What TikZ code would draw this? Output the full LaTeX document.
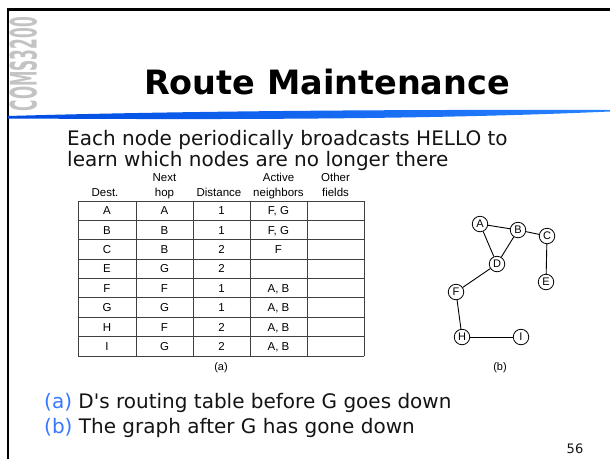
\documentclass[tikz,border=0pt]{standalone}
\usepackage{fontspec}
\setmainfont{DejaVu Sans}
\newfontfamily\dv{DejaVu Sans}
\newfontfamily\helv{Liberation Sans}
\definecolor{capblue}{RGB}{55,120,255}
\definecolor{swooshA}{RGB}{0,75,225}
\definecolor{swooshB}{RGB}{40,130,255}
\definecolor{txt}{RGB}{20,20,20}
\definecolor{logogray}{RGB}{195,195,195}
\tikzset{
  bodytext/.style={anchor=base west, inner sep=0, text=txt, font=\dv\fontsize{20}{24}\selectfont},
  hdr/.style={anchor=base, inner sep=0, font=\helv\fontsize{11.5}{13}\selectfont},
  cell/.style={anchor=base, inner sep=0, font=\helv\fontsize{11.5}{13}\selectfont},
  tabline/.style={line width=0.8pt, draw=black!75},
  gnode/.style={circle, draw, line width=0.8pt, fill=white, minimum size=15.5pt, inner sep=0, font=\helv\fontsize{11}{12}\selectfont},
  gedge/.style={line width=0.9pt},
  caption/.style={anchor=center, inner sep=0, font=\helv\fontsize{11}{12}\selectfont}
}
\begin{document}
\begin{tikzpicture}[x=1pt,y=-1pt]
\useasboundingbox (0,0) rectangle (610,459);
\fill[white] (0,0) rectangle (610,459);
% frame
\draw[line width=2.4pt] (7.8,459) -- (7.8,9.5) -- (610,9.5);
% logo
\node[rotate=90, text=logogray, inner sep=0] (logo) at (23.5,64) {\resizebox{94pt}{27pt}{\dv\bfseries COMS3200}};
% swoosh
\shade[left color=swooshA, right color=swooshB] (8,116) .. controls (200,110.5) and (420,109.5) .. (610,110) -- (610,111.5) .. controls (420,120) and (200,119.5) .. (8,118.5) -- cycle;
% title
\node[anchor=base, inner sep=0, text=black, font=\dv\bfseries\fontsize{33.5}{40}\selectfont] (title) at (327,94) {Route Maintenance};
% body
\node[bodytext] (l1) at (67,145) {Each node periodically broadcasts HELLO to};
\node[bodytext] (l2) at (67,166) {learn which nodes are no longer there};
% table headers
\node[hdr] (h2a) at (164.5,181) {Next};
\node[hdr] (h4a) at (278.5,181) {Active};
\node[hdr] (h5a) at (335.5,181) {Other};
\node[hdr] (h1) at (105,196) {Dest.};
\node[hdr] (h2) at (164.5,196) {hop};
\node[hdr] (h3) at (219,196) {Distance};
\node[hdr] (h4) at (278.5,196) {neighbors};
\node[hdr] (h5) at (335.5,196) {fields};
% table grid
\foreach \k in {0,...,8} {\draw[tabline] (78,201+\k*19.375) -- (364,201+\k*19.375);}
\foreach \xx in {78,136,193,250,307,364} {\draw[tabline] (\xx,201) -- (\xx,356);}
% table cells
\foreach \d/\n/\s/\a [count=\i from 0] in {A/A/1/{F, G}, B/B/1/{F, G}, C/B/2/F, E/G/2/{}, F/F/1/{A, B}, G/G/1/{A, B}, H/F/2/{A, B}, I/G/2/{A, B}} {
  \node[cell] (d\i) at (107,214.8+\i*19.375) {\d};
  \node[cell] (n\i) at (164.5,214.8+\i*19.375) {\n};
  \node[cell] (s\i) at (221.5,214.8+\i*19.375) {\s};
  \node[cell] (a\i) at (278.5,214.8+\i*19.375) {\a};
}
\node[caption] (capa) at (221,368) {(a)};
% graph
\node[gnode] (A) at (480,224) {A};
\node[gnode] (B) at (518,230) {B};
\node[gnode] (C) at (547,236) {C};
\node[gnode] (D) at (497,264) {D};
\node[gnode] (E) at (546,282) {E};
\node[gnode] (F) at (456,292) {F};
\node[gnode] (H) at (462,337) {H};
\node[gnode] (I) at (521,337) {I};
\draw[gedge] (A) -- (B);
\draw[gedge] (A) -- (D);
\draw[gedge] (B) -- (D);
\draw[gedge] (B) -- (C);
\draw[gedge] (C) -- (E);
\draw[gedge] (D) -- (F);
\draw[gedge] (F) -- (H);
\draw[gedge] (H) -- (I);
\node[caption] (capb) at (500,368) {(b)};
% bottom text
\node[bodytext] (pa) at (44,408) {\textcolor{capblue}{(a)} D's routing table before G goes down};
\node[bodytext] (pb) at (44,433) {\textcolor{capblue}{(b)} The graph after G has gone down};
\node[anchor=center, inner sep=0, text=txt, font=\dv\fontsize{13}{15}\selectfont] (pg) at (575,449) {56};
\end{tikzpicture}
\end{document}
